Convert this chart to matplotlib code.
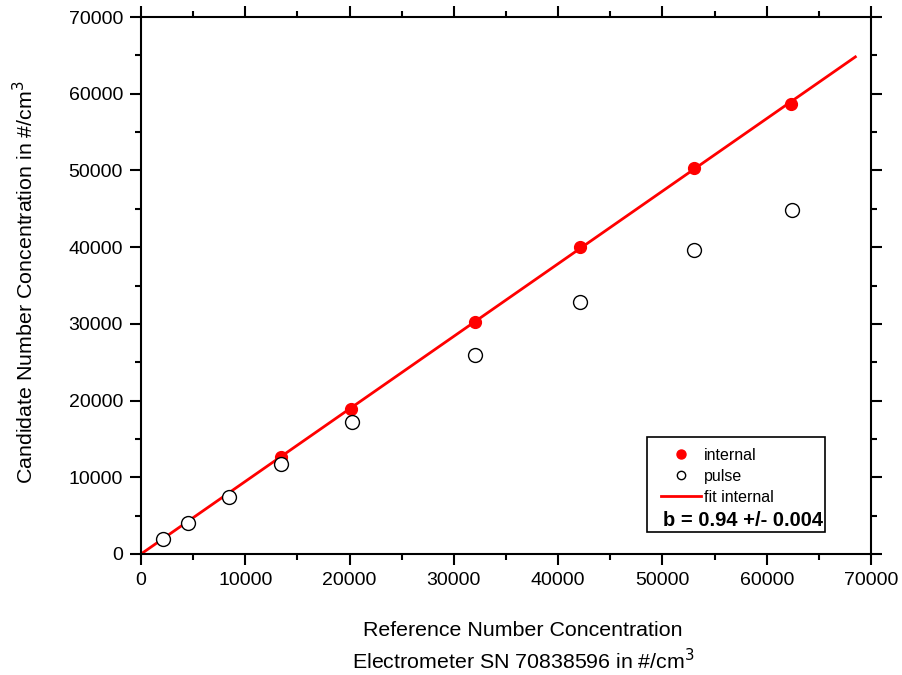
import numpy as np
import matplotlib
matplotlib.use("Agg")
import matplotlib.pyplot as plt
from matplotlib.lines import Line2D
from matplotlib.patches import Rectangle
from matplotlib.ticker import MultipleLocator

plt.rcParams['font.family'] = ['Liberation Sans', 'DejaVu Sans']

# values
internal_x = [13425, 20140, 32030, 42100, 53030, 62340]
internal_y = [12610, 18900, 30290, 40070, 50330, 58680]

pulse_x = [2080, 4480, 8410, 13425, 20270, 32030, 42100, 53060, 62400]
pulse_y = [1920, 4080, 7470, 11700, 17170, 25950, 32860, 39640, 44860]

fit_slope = 0.946
fit_x = np.array([0, 68500])
fit_label = "b = 0.94 +/- 0.004"

fig = plt.figure(figsize=(9.02, 6.75), dpi=100)
ax = fig.add_axes([141 / 902, 1 - 554 / 675, 730 / 902, 537 / 675])

ax.plot(fit_x, fit_slope * fit_x, color='red', lw=2, zorder=2)
ax.plot(internal_x, internal_y, 'o', color='red', ms=8.5, zorder=3)
ax.plot(pulse_x, pulse_y, 'o', mfc='white', mec='black', mew=1, ms=10, zorder=3)

ax.set_xlim(0, 70000)
ax.set_ylim(0, 70000)
for a in (ax.xaxis, ax.yaxis):
    a.set_major_locator(MultipleLocator(10000))
    a.set_minor_locator(MultipleLocator(5000))
ax.tick_params(which='both', direction='out', width=1.5,
               top=True, right=True, labelsize=14)
ax.tick_params(which='major', length=8, pad=5)
ax.tick_params(which='minor', length=4.3)
for s in ax.spines.values():
    s.set_linewidth(1.5)

fig.text(25 / 902, 1 - 282 / 675, 'Candidate Number Concentration in #/cm$^3$',
         rotation=90, ha='center', va='center', fontsize=15.4)
fig.text(523 / 902, 1 - 631 / 675, 'Reference Number Concentration',
         ha='center', va='center', fontsize=15.4)
fig.text(523 / 902, 1 - 661 / 675, 'Electrometer SN 70838596 in #/cm$^3$',
         ha='center', va='center', fontsize=15.4)

# legend box
ax.add_patch(Rectangle((0.693, 0.041), 0.244, 0.177, transform=ax.transAxes,
                       fill=True, fc='white', ec='black', lw=1.2, zorder=4))
handles = [
    Line2D([], [], ls='none', marker='o', color='red', ms=6.5),
    Line2D([], [], ls='none', marker='o', mfc='white', mec='black', mew=1, ms=6),
    Line2D([], [], color='red', lw=2),
]
leg = ax.legend(handles, ['internal', 'pulse', 'fit internal'],
                loc='upper left', bbox_to_anchor=((661 - 141) / 730, (554 - 448) / 537),
                frameon=False, fontsize=11.5, handlelength=2.5, handletextpad=0.2,
                labelspacing=0.36, borderpad=0, borderaxespad=0)
leg.set_zorder(5)
ax.text((663 - 141) / 730, (554 - 520) / 537, fit_label, transform=ax.transAxes,
        ha='left', va='center', fontsize=14.5, fontweight='bold', zorder=6)

fig.savefig('out.png', dpi=100)
